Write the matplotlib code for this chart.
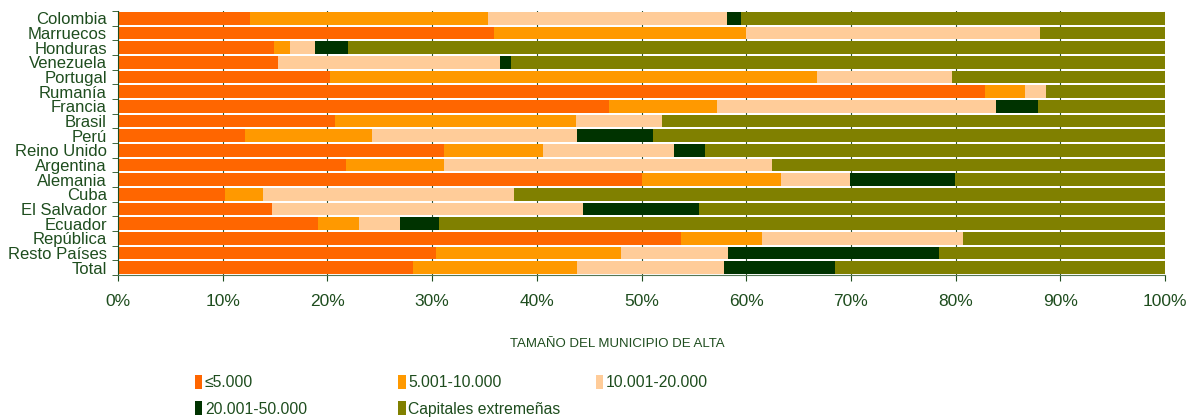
import matplotlib
matplotlib.use("Agg")
import matplotlib.pyplot as plt
import numpy as np
from matplotlib.patches import Patch

plt.rcParams['font.family'] = ['Liberation Sans', 'DejaVu Sans']

countries = ['Colombia', 'Marruecos', 'Honduras', 'Venezuela', 'Portugal', 'Rumanía',
             'Francia', 'Brasil', 'Perú', 'Reino Unido', 'Argentina', 'Alemania', 'Cuba',
             'El Salvador', 'Ecuador', 'República', 'Resto Países', 'Total']

# percentages per municipality size (each row sums to 100)
hasta_5000 = [12.6, 35.9, 14.9, 15.3, 20.2, 82.8, 46.9, 20.7, 12.1, 31.1, 21.8, 50.0, 10.2,
              14.7, 19.1, 53.8, 30.4, 28.2]
de_5001_10000 = [22.7, 24.1, 1.5, 0.0, 46.6, 3.8, 10.3, 23.0, 12.2, 9.5, 9.3, 13.3, 3.6,
                 0.0, 3.9, 7.7, 17.6, 15.6]
de_10001_20000 = [22.9, 28.1, 2.4, 21.2, 12.9, 2.0, 26.7, 8.3, 19.5, 12.5, 31.4, 6.6, 24.0,
                  29.7, 3.9, 19.2, 10.3, 14.1]
de_20001_50000 = [1.3, 0.0, 3.2, 1.0, 0.0, 0.0, 4.0, 0.0, 7.3, 3.0, 0.0, 10.0, 0.0,
                  11.1, 3.8, 0.0, 20.1, 10.6]
capitales = [100 - a - b - c - d for a, b, c, d in
             zip(hasta_5000, de_5001_10000, de_10001_20000, de_20001_50000)]

series = [hasta_5000, de_5001_10000, de_10001_20000, de_20001_50000, capitales]
labels = ['≤5.000', '5.001-10.000', '10.001-20.000', '20.001-50.000', 'Capitales extremeñas']
colors = ['#FF6600', '#FF9900', '#FFCC99', '#003300', '#808000']
text_color = '#1E4D1E'

fig = plt.figure(figsize=(11.97, 4.18), dpi=100)
ax = fig.add_axes([0.0986, 0.342, 0.8747, 0.632])

y = np.arange(len(countries))
left = np.zeros(len(countries))
handles = []
for vals, lab, col in zip(series, labels, colors):
    vals = np.array(vals)
    ax.barh(y, vals, left=left, height=0.86, color=col, zorder=2)
    left += vals
    handles.append(Patch(facecolor=col, label=lab))

ax.set_xlim(0, 100)
ax.set_ylim(len(countries) - 0.5, -0.5)
ax.set_xticks(np.arange(0, 101, 10))
ax.set_xticklabels([f'{v}%' for v in range(0, 101, 10)])
ax.set_yticks(y)
ax.set_yticklabels(countries)
ax.set_yticks(np.arange(-0.5, len(countries), 1), minor=True)

ax.tick_params(axis='y', which='major', length=0, pad=8, labelsize=12, labelcolor=text_color)
ax.tick_params(axis='y', which='minor', length=4, color=text_color)
ax.tick_params(axis='x', length=4, pad=10, labelsize=12.5, labelcolor=text_color, color=text_color)

ax.grid(axis='x', color='#335533', linewidth=0.8, zorder=0)
for side in ['top', 'right']:
    ax.spines[side].set_visible(False)
ax.spines['left'].set_color(text_color)
ax.spines['bottom'].set_color('#557755')

fig.text(0.516, 0.178, 'TAMAÑO DEL MUNICIPIO DE ALTA', ha='center', va='center',
         fontsize=9.5, color=text_color)

# legend laid out as three fixed-width columns
columns = [[0, 3], [1, 4], [2]]
col_x = [0.156, 0.326, 0.491]
for idx, x0 in zip(columns, col_x):
    leg = fig.legend([handles[i] for i in idx], [labels[i] for i in idx],
                     loc='upper left', bbox_to_anchor=(x0, 0.122),
                     frameon=False, fontsize=11.3, handlelength=0.5, handleheight=1.0,
                     handletextpad=0.15, labelspacing=0.7, borderpad=0)
    for t in leg.get_texts():
        t.set_color(text_color)

fig.savefig('out.png', dpi=100)
